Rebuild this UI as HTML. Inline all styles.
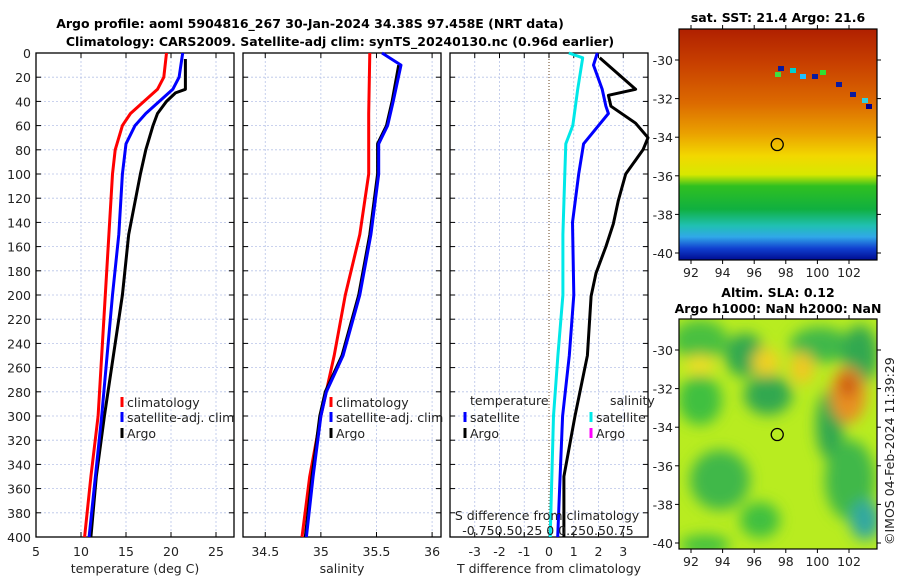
<!DOCTYPE html>
<html><head><meta charset="utf-8"><style>
body{margin:0;background:#fff;}
svg{display:block;font-family:"DejaVu Sans","Liberation Sans",sans-serif;}
</style></head><body>
<svg id="fig" width="900" height="580" viewBox="0 0 900 580" xmlns="http://www.w3.org/2000/svg">
<defs>
<linearGradient id="sstg" x1="0" y1="0" x2="0" y2="1">
<stop offset="0" stop-color="#b02000"/><stop offset="0.15" stop-color="#c84000"/>
<stop offset="0.32" stop-color="#dc6a00"/><stop offset="0.45" stop-color="#eaa000"/>
<stop offset="0.55" stop-color="#f2d800"/><stop offset="0.63" stop-color="#d8e800"/>
<stop offset="0.68" stop-color="#30c020"/><stop offset="0.78" stop-color="#10b040"/>
<stop offset="0.85" stop-color="#20c0b0"/><stop offset="0.9" stop-color="#30a8e8"/>
<stop offset="0.95" stop-color="#1040d0"/><stop offset="1" stop-color="#000c90"/>
</linearGradient>
<filter id="blur"><feGaussianBlur stdDeviation="7"/></filter>
<clipPath id="m2clip"><rect x="679" y="319" width="198" height="230"/></clipPath>
</defs>
<g id="plots"></g>
<text x="310" y="28" text-anchor="middle" font-size="12.5" font-weight="bold">Argo profile: aoml 5904816_267 30-Jan-2024 34.38S 97.458E (NRT data)</text>
<text x="340" y="46" text-anchor="middle" font-size="12.5" font-weight="bold">Climatology: CARS2009. Satellite-adj clim: synTS_20240130.nc (0.96d earlier)</text>
<text x="778" y="22" text-anchor="middle" font-size="12.5" font-weight="bold">sat. SST: 21.4 Argo: 21.6</text>
<text x="778" y="297" text-anchor="middle" font-size="12.5" font-weight="bold">Altim. SLA: 0.12</text>
<text x="778" y="313" text-anchor="middle" font-size="12.5" font-weight="bold">Argo h1000: NaN h2000: NaN</text>
<text transform="translate(894,545) rotate(-90)" font-size="12.5" fill="#222">©IMOS 04-Feb-2024 11:39:29</text>
</svg>
<script>
// ---- data ----
const depthTicks=[0,20,40,60,80,100,120,140,160,180,200,220,240,260,280,300,320,340,360,380,400];
const tTicks=[5,10,15,20,25];
const sTicks=[34.5,35,35.5,36];
const dTicks=[-3,-2,-1,0,1,2,3];
const tClimDepth=[0,20,30,40,50,60,80,100,150,200,250,300,350,400];
const tClim=[19.5,19.2,18.5,17,15.5,14.6,13.8,13.5,13.1,12.7,12.3,11.9,11.1,10.4];
const tSatDepth=[0,20,30,40,50,60,75,100,150,200,250,300,350,400];
const tSat=[21.3,20.9,20.2,18.7,17.2,16,15,14.6,14.2,13.5,12.9,12.3,11.6,10.9];
const tArgoDepth=[5,30,33,40,50,60,80,100,150,200,250,300,350,400];
const tArgo=[21.6,21.6,20.5,19.5,18.5,18,17.2,16.6,15.3,14.6,13.6,12.6,11.7,11.1];
const sClimDepth=[0,50,100,150,200,250,300,350,400];
const sClim=[35.44,35.43,35.43,35.35,35.22,35.12,35.0,34.9,34.83];
const sSatDepth=[0,10,40,60,75,100,150,200,250,280,300,350,400];
const sSat=[35.55,35.72,35.65,35.6,35.52,35.52,35.45,35.35,35.2,35.05,35.0,34.93,34.87];
const sArgoDepth=[10,40,60,75,100,150,200,250,280,300,350,400];
const sArgo=[35.7,35.64,35.59,35.51,35.51,35.44,35.34,35.19,35.04,34.99,34.92,34.86];
const dArgoDepth=[4,30,35,44,58,70,80,100,122,141,160,182,201,250,300,350,400];
const dArgo=[2.05,3.5,2.4,2.5,3.5,4.0,3.8,3.1,2.8,2.6,2.3,1.9,1.7,1.55,1.05,0.6,0.6];
const dSatDepth=[0,10,30,44,50,75,100,140,200,250,300,350,400];
const dSat=[1.95,1.8,2.15,2.3,2.4,1.4,1.2,0.95,1.0,0.82,0.55,0.45,0.35];
const sdSatDepth=[0,4,30,60,75,100,150,200,250,300,400];
const sdSat=[0.2,0.34,0.29,0.24,0.17,0.16,0.14,0.14,0.09,0.045,0.012];
// ---- axes ----
const NS="http://www.w3.org/2000/svg";
const TOP=53,BOT=537;
const yD=d=>TOP+d/400*(BOT-TOP);
const panels=[{x0:36,x1:234,min:5,max:27},{x0:243,x1:441,min:34.3,max:36.08},{x0:450,x1:648,min:-4,max:4}];
const fx=(p,v)=>p.x0+(v-p.min)/(p.max-p.min)*(p.x1-p.x0);
const sfx=v=>fx(panels[2],v*4);
const g=document.getElementById('plots');
function mk(tag,attrs,parent){const e=document.createElementNS(NS,tag);for(const k in attrs)e.setAttribute(k,attrs[k]);(parent||g).appendChild(e);return e;}
function txt(x,y,s,size,anchor,parent){const t=mk('text',{x:x,y:y,'font-size':size||12.5,'text-anchor':anchor||'middle',fill:'#222'},parent);t.textContent=s;return t;}
const tickSets=[tTicks,sTicks,dTicks];
const xlabels=['temperature (deg C)','salinity','T difference from climatology'];
panels.forEach((p,i)=>{
  const pg=mk('g',{});
  
  
  depthTicks.forEach(d=>{
    mk('line',{x1:p.x0,x2:p.x1,y1:yD(d),y2:yD(d),stroke:'#b8c4e8','stroke-width':0.8,'stroke-dasharray':'2,2'},pg);
    mk('line',{x1:p.x0,x2:p.x0+5,y1:yD(d),y2:yD(d),stroke:'#000'},pg);
    mk('line',{x1:p.x1,x2:p.x1-5,y1:yD(d),y2:yD(d),stroke:'#000'},pg);
  });
  tickSets[i].forEach(v=>{
    const x=fx(p,v);
    mk('line',{x1:x,x2:x,y1:TOP,y2:BOT,stroke:(i==2&&v==0)?'#806040':'#b8c4e8','stroke-width':(i==2&&v==0)?1.2:0.8,'stroke-dasharray':(i==2&&v==0)?'1,2':'2,2'},pg);
    mk('line',{x1:x,x2:x,y1:BOT,y2:BOT-5,stroke:'#000'},pg);
    mk('line',{x1:x,x2:x,y1:TOP,y2:TOP+5,stroke:'#000'},pg);
    const t=txt(x,556,String(v),12.5,'middle',pg);
    
    
  });
  mk('rect',{x:p.x0,y:TOP,width:p.x1-p.x0,height:BOT-TOP,fill:'none',stroke:'#000','stroke-width':1.3},pg);
  const xl=txt((p.x0+p.x1)/2,573,xlabels[i],12.5,'middle',pg);
  
  
});
depthTicks.forEach(d=>{const t=txt(31,yD(d)+5,String(d),12.5,'end');
  
  });
function line(xs,ds,fxn,color,name,w){
  const pts=xs.map((v,i)=>fxn(v).toFixed(1)+','+yD(ds[i]).toFixed(1)).join(' ');
  const l=mk('polyline',{points:pts,fill:'none',stroke:color,'stroke-width':w||3,'stroke-linejoin':'round'});
  
  
}
const P=panels;
line(tClim,tClimDepth,v=>fx(P[0],v),'#ff0000','temp-climatology-line');
line(tArgo,tArgoDepth,v=>fx(P[0],v),'#000','temp-argo-line');
line(tSat,tSatDepth,v=>fx(P[0],v),'#0000ff','temp-satellite-line');
line(sClim,sClimDepth,v=>fx(P[1],v),'#ff0000','sal-climatology-line');
line(sArgo,sArgoDepth,v=>fx(P[1],v),'#000','sal-argo-line');
line(sSat,sSatDepth,v=>fx(P[1],v),'#0000ff','sal-satellite-line');
line(sdSat,sdSatDepth,sfx,'#00e8e8','sal-diff-satellite-line');
line(dArgo,dArgoDepth,v=>fx(P[2],v),'#000','temp-diff-argo-line');
line(dSat,dSatDepth,v=>fx(P[2],v),'#0000ff','temp-diff-satellite-line');
// legends
function leg(x,y,color,label,name){
  const lg=mk('g',{});
  
  
  mk('line',{x1:x,x2:x,y1:y-10,y2:y,stroke:color,'stroke-width':3},lg);
  txt(x+5,y,label,12.5,'start',lg);
}
leg(122,407,'#ff0000','climatology','legend-climatology');
leg(122,422,'#0000ff','satellite-adj. clim','legend-satellite');
leg(122,438,'#000','Argo','legend-argo');
leg(331,407,'#ff0000','climatology','legend-sal-climatology');
leg(331,422,'#0000ff','satellite-adj. clim','legend-sal-satellite');
leg(331,438,'#000','Argo','legend-sal-argo');
txt(470,405,'temperature',12.5,'start');
txt(610,405,'salinity',12.5,'start');
leg(465,422,'#0000ff','satellite','legend-diff-t-satellite');
leg(465,438,'#000','Argo','legend-diff-t-argo');
leg(591,422,'#00e8e8','satellite','legend-diff-s-satellite');
leg(591,438,'#ff00ff','Argo','legend-diff-s-argo');
const st=txt(547,520,'S difference from climatology',12.5,'middle');


txt(548,535,'-0.750.50.25 0 0.250.50.75',12.5,'middle');
// ---- maps ----
const mapLon=[92,94,96,98,100,102];
const mapLat=[-30,-32,-34,-36,-38,-40];
const lonX=v=>691+(v-92)*15.8;
const latY=(v,top)=>top+31+(-30-v)*19.3;
function mapAxes(top,h,name){
  const mg=mk('g',{});
  
  
  mk('rect',{x:679,y:top,width:198,height:h,fill:'none',stroke:'#000','stroke-width':1.2},mg);
  mapLon.forEach(v=>{mk('line',{x1:lonX(v),x2:lonX(v),y1:top+h,y2:top+h+4,stroke:'#000'},mg);
    mk('line',{x1:lonX(v),x2:lonX(v),y1:top,y2:top-4,stroke:'#000'},mg);
    txt(lonX(v),top+h+17,String(v),12.5,'middle',mg);});
  mapLat.forEach(v=>{const y=latY(v,top);
    mk('line',{x1:679,x2:675,y1:y,y2:y,stroke:'#000'},mg);
    mk('line',{x1:877,x2:881,y1:y,y2:y,stroke:'#000'},mg);
    txt(673,y+5,String(v),12.5,'end',mg);});
  const c=mk('ellipse',{cx:lonX(97.458),cy:latY(-34.38,top),rx:6,ry:6,fill:'none',stroke:'#000','stroke-width':1.3},mg);
  
  
}
const m1=mk('rect',{x:679,y:29,width:198,height:231,fill:'url(#sstg)'});


[[778,66,'#0a1aa0'],[790,68,'#00d0d0'],[812,74,'#0a1aa0'],[820,70,'#30e030'],[836,82,'#0a1aa0'],[850,92,'#0a1aa0'],[862,98,'#30d0e0'],[866,104,'#000090'],[775,72,'#40e040'],[800,74,'#20c0ff']].forEach(d=>mk('rect',{x:d[0],y:d[1],width:6,height:5,fill:d[2]}));
const m2=mk('g',{'clip-path':'url(#m2clip)'});


mk('rect',{x:679,y:319,width:198,height:230,fill:'#b8ec20'},m2);
const bf=mk('g',{filter:'url(#blur)'},m2);
[[700,340,28,20,'#48c040'],[745,355,20,22,'#30a850'],[820,345,30,18,'#40b848'],[860,355,18,30,'#30a850'],[700,400,22,25,'#40c040'],[768,395,24,20,'#30a850'],[830,425,14,35,'#30a850'],[720,480,30,30,'#40b848'],[760,520,20,18,'#40c040'],[850,480,25,40,'#40b848'],[865,520,15,20,'#30a8a0'],[705,545,25,10,'#40c040']].forEach(e=>mk('ellipse',{cx:e[0],cy:e[1],rx:e[2],ry:e[3],fill:e[4]},bf));
[[700,365,15,10,'#f0e020'],[766,362,14,14,'#f0d020'],[802,368,12,16,'#f0c820'],[848,395,18,28,'#e89020'],[848,385,8,12,'#c85010']].forEach(e=>mk('ellipse',{cx:e[0],cy:e[1],rx:e[2],ry:e[3],fill:e[4]},bf));
mapAxes(29,231,'sst-map');
mapAxes(319,230,'sla-map');
</script>
</body></html>
